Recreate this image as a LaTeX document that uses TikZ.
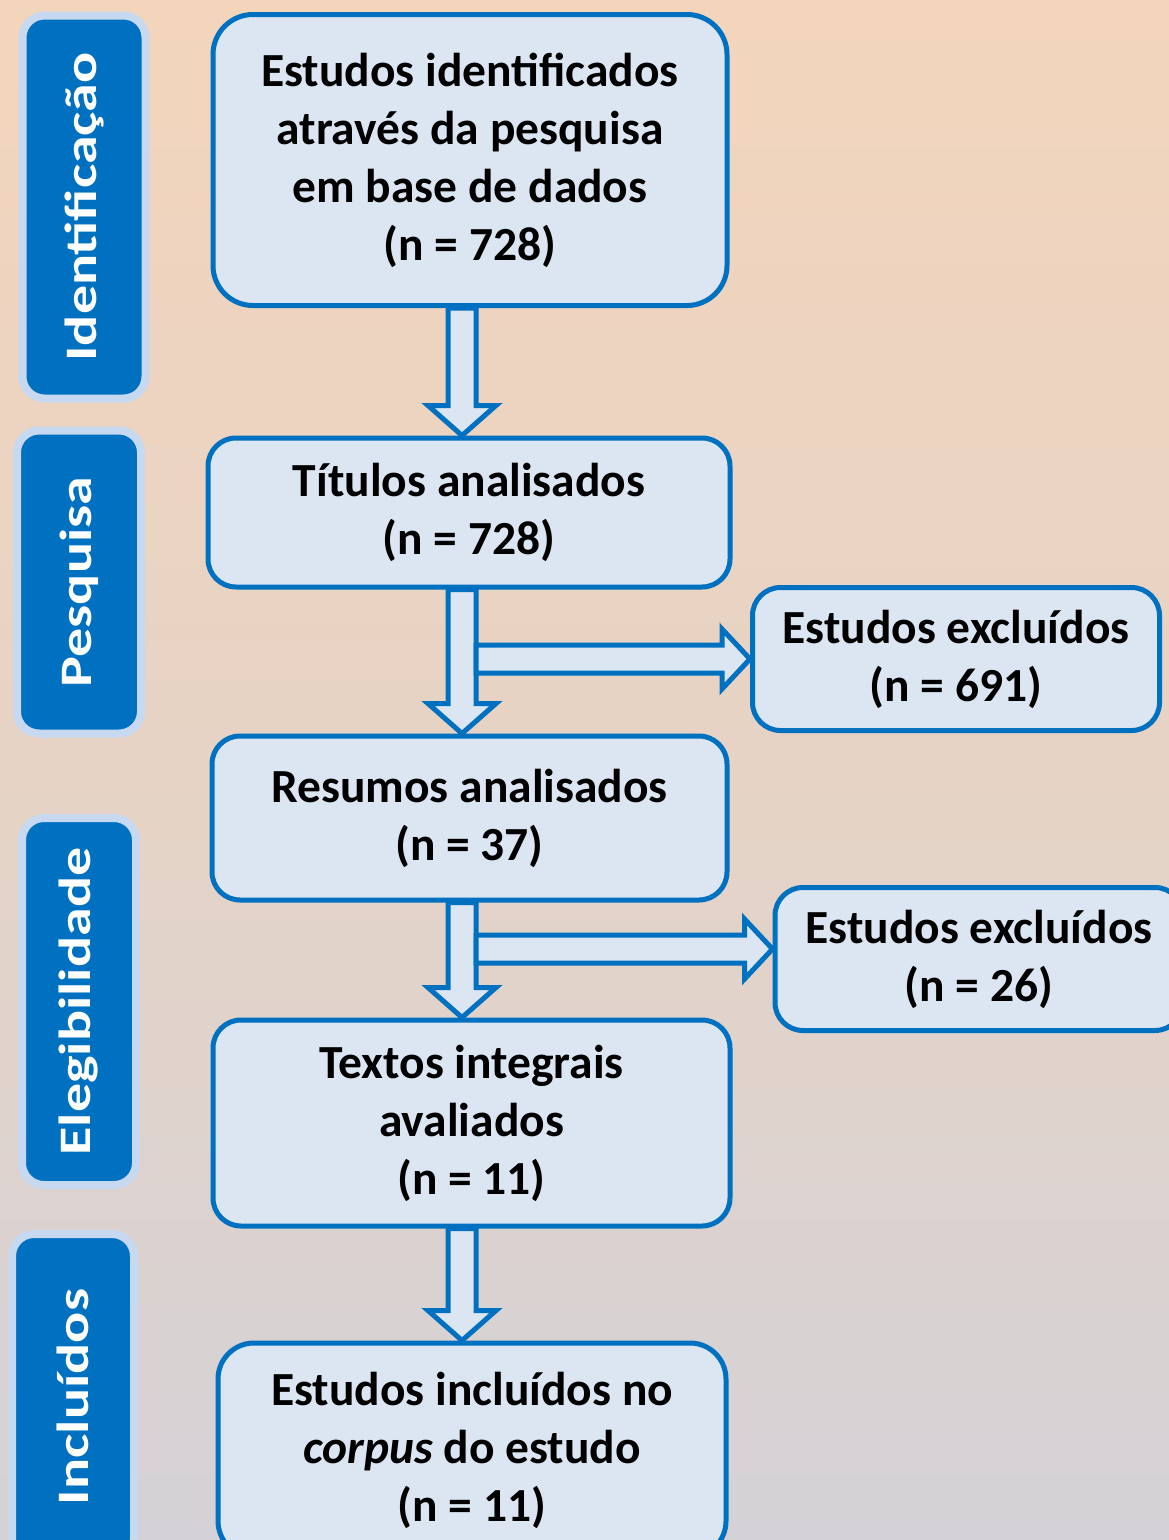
\documentclass[tikz,border=0pt]{standalone}
\usepackage{fontspec}
\usepackage{graphicx}
\setmainfont{Carlito}
\usetikzlibrary{calc}
\definecolor{BoxBlue}{HTML}{0070C0}
\definecolor{BoxFill}{HTML}{DCE6F2}
\definecolor{TabEdge}{HTML}{C6D9F0}
\definecolor{BgTop}{HTML}{F3D5BC}
\definecolor{BgMid}{HTML}{E6D3C5}
\definecolor{BgBottom}{HTML}{D4D2D7}

\tikzset{
  stage/.style={draw=BoxBlue,fill=BoxFill,line width=5pt,rounded corners=28pt,
    align=center,inner sep=0pt,font=\fontsize{47.5}{58}\selectfont\bfseries},
  phase/.style={draw=TabEdge,fill=BoxBlue,line width=8pt,rounded corners=22pt,
    text=white,rotate=90,inner sep=0pt,font=\fontsize{45}{54}\selectfont\bfseries},
  flow/.style={draw=BoxBlue,fill=BoxFill,line width=5pt,line join=miter},
}

% stretched label of a phase tab
\newcommand{\TabText}[1]{\scalebox{1.29}[1]{#1}}
% block arrow downwards, from #1 to the tip #2
\newcommand{\FlowDown}[2]{%
  \draw[flow] let \p1=(#1), \p2=(#2) in
    (\x1-14pt,\y1) -- (\x1-14pt,\y2+30pt) -- (\x1-34pt,\y2+30pt) -- (\x2,\y2)
    -- (\x1+34pt,\y2+30pt) -- (\x1+14pt,\y2+30pt) -- (\x1+14pt,\y1) -- cycle;}
% block arrow to the right, out of the shaft at #1
\newcommand{\FlowRight}[2]{%
  \draw[flow] let \p1=(#1), \p2=(#2) in
    (\x1+14pt,\y2+14pt) -- (\x2-28pt,\y2+14pt) -- (\x2-28pt,\y2+30pt) -- (\x2,\y2)
    -- (\x2-28pt,\y2-30pt) -- (\x2-28pt,\y2-14pt) -- (\x1+14pt,\y2-14pt) -- cycle;}

\begin{document}
\begin{tikzpicture}[x=1pt,y=-1pt]
\useasboundingbox (0,0) rectangle (1169,1540);
\fill[top color=BgTop,bottom color=BgBottom,middle color=BgMid] (0,0) rectangle (1169,1540);

% phases
\node[phase,minimum width=383pt,minimum height=123pt] (tabIdent) at (84,207) {\TabText{Identificação}};
\node[phase,minimum width=303pt,minimum height=124pt] (tabPesq) at (79,582) {\TabText{Pesquisa}};
\node[phase,minimum width=367pt,minimum height=114pt] (tabEleg) at (79,1001.5) {\TabText{Elegibilidade}};
\node[phase,minimum width=326pt,minimum height=122pt] (tabIncl) at (73,1397) {\TabText{Incluídos}};

% stages
\node[stage,minimum width=514pt,minimum height=291pt,rounded corners=40pt] (ident) at (470,160)
  {Estudos identificados\\através da pesquisa\\em base de dados\\(n = 728)};
\node[stage,minimum width=522pt,minimum height=149pt] (titulos) at (469,512.5)
  {Títulos analisados\\(n = 728)};
\node[stage,minimum width=407pt,minimum height=143pt] (exclA) at (956,659)
  {Estudos excluídos\\(n = 691)};
\node[stage,minimum width=515pt,minimum height=164pt] (resumos) at (469.5,818)
  {Resumos analisados\\(n = 37)};
\node[stage,minimum width=408pt,minimum height=143pt] (exclB) at (979,959)
  {Estudos excluídos\\(n = 26)};
\node[stage,minimum width=517pt,minimum height=206pt] (textos) at (471.5,1123)
  {Textos integrais\\avaliados\\(n = 11)};
\node[stage,minimum width=508pt,minimum height=214pt,rounded corners=36pt] (incl) at (472,1450)
  {Estudos incluídos no\\\textit{corpus} do estudo\\(n = 11)};

\coordinate (spine) at (462,0);

% arrows
\FlowDown{ident.south -| spine}{titulos.north -| spine}
\FlowDown{titulos.south -| spine}{resumos.north -| spine}
\FlowRight{spine}{exclA.west}
\FlowDown{resumos.south -| spine}{textos.north -| spine}
\FlowRight{spine}{$(exclB.west)+(0,-10)$}
\FlowDown{textos.south -| spine}{incl.north -| spine}

\end{tikzpicture}
\end{document}
